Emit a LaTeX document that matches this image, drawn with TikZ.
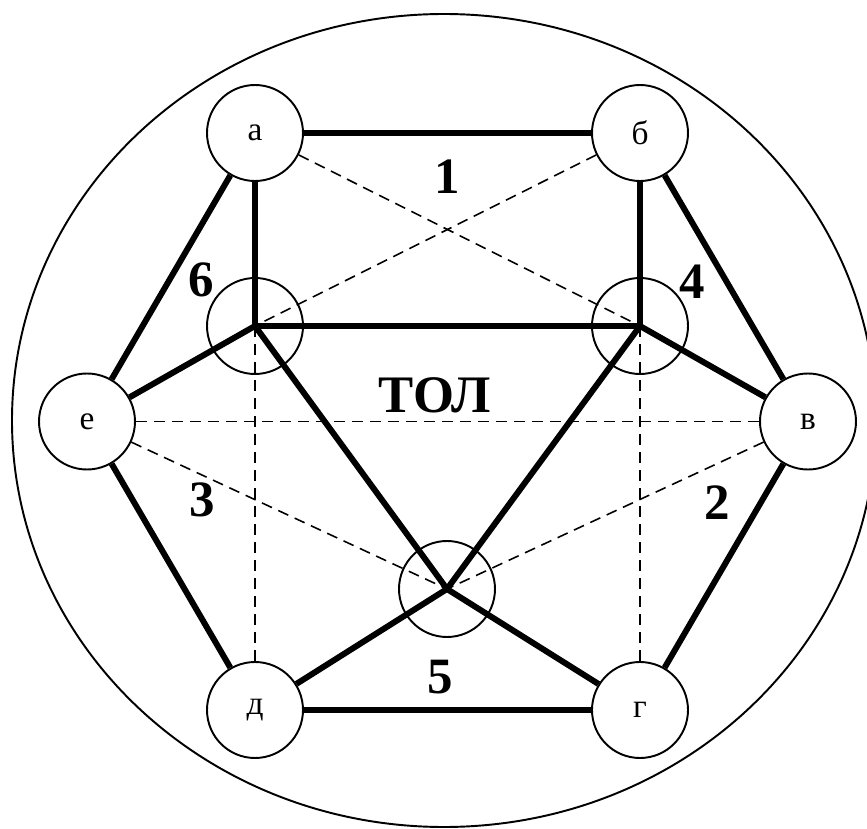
\documentclass[tikz,border=0pt]{standalone}
\usepackage{fontspec}
\setmainfont{Liberation Serif}
\tikzset{
  tol ring/.style={circle, draw=black, fill=white, line width=1.1pt, minimum size=1.92cm, inner sep=0pt, font=\fontsize{19}{21}\selectfont},
  tol link/.style={draw=black, line width=3.4pt},
  tol dash/.style={draw=black, line width=0.9pt, dash pattern=on 0.22cm off 0.14cm},
  tol hub/.style={draw=black, line width=1.1pt},
  tol label/.style={font=\fontsize{29}{32}\selectfont\bfseries},
}

\begin{document}
\begin{tikzpicture}
  \useasboundingbox (-8.88,-8.13) rectangle (8.46,8.43);
  % outer boundary
  \draw[tol hub] (0,0.02) ellipse [x radius=8.64, y radius=8.13];
  % junction points inside the hexagon
  \coordinate (p1) at (-3.78,1.91);
  \coordinate (p2) at (3.92,1.91);
  \coordinate (p3) at (0.06,-3.35);
  \foreach \p in {p1,p2,p3}
    \draw[tol hub] (\p) circle [radius=0.96];
  % outer nodes
  \node[tol ring] (a) at (-3.78,5.77) {а};
  \node[tol ring] (b) at (3.92,5.77) {б};
  \node[tol ring] (v) at (7.28,0) {в};
  \node[tol ring] (g) at (3.92,-5.77) {г};
  \node[tol ring] (d) at (-3.78,-5.77) {д};
  \node[tol ring] (e) at (-7.14,0) {е};
  % dashed links
  \draw[tol dash] (a) -- (p2);
  \draw[tol dash] (b) -- (p1);
  \draw[tol dash] (e) -- (v);
  \draw[tol dash] (e) -- (p3);
  \draw[tol dash] (v) -- (p3);
  \draw[tol dash] (p1) -- (d);
  \draw[tol dash] (p2) -- (g);
  % hexagon sides
  \draw[tol link] (a) -- (b);
  \draw[tol link] (b) -- (v);
  \draw[tol link] (v) -- (g);
  \draw[tol link] (g) -- (d);
  \draw[tol link] (d) -- (e);
  \draw[tol link] (e) -- (a);
  % inner links
  \draw[tol link] (a) -- (p1);
  \draw[tol link] (b) -- (p2);
  \draw[tol link] (p1) -- (p2);
  \draw[tol link] (e) -- (p1);
  \draw[tol link] (v) -- (p2);
  \draw[tol link] (p1) -- (p3);
  \draw[tol link] (p2) -- (p3);
  \draw[tol link] (d) -- (p3);
  \draw[tol link] (g) -- (p3);
  % zone numbers
  \node[tol label] (z1) at (0.06,4.89) {1};
  \node[tol label] (z2) at (5.46,-1.63) {2};
  \node[tol label] (z3) at (-4.84,-1.57) {3};
  \node[tol label] (z4) at (4.96,2.79) {4};
  \node[tol label] (z5) at (-0.08,-5.11) {5};
  \node[tol label] (z6) at (-4.86,2.83) {6};
  \node[tol label, font=\fontsize{30}{33}\selectfont\bfseries] (tol) at (-0.18,0.53) {ТОЛ};
\end{tikzpicture}
\end{document}
